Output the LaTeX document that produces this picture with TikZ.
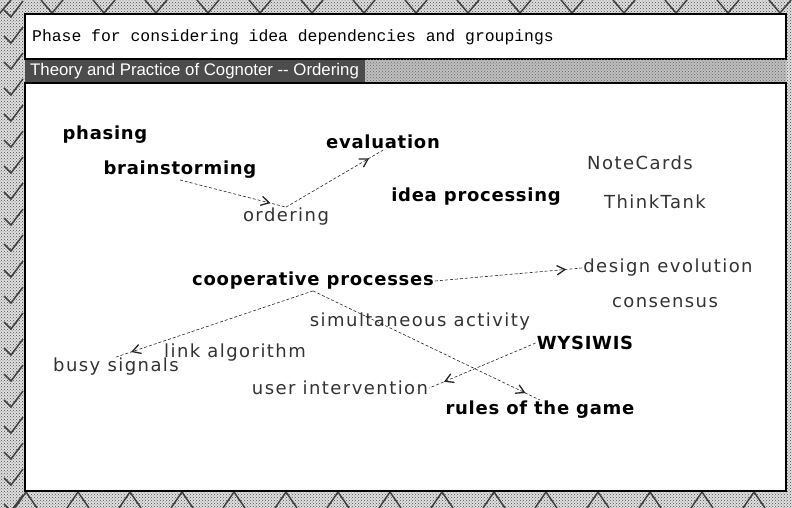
\documentclass[tikz,border=0pt]{standalone}
\usepackage{fontspec}
\setmainfont{DejaVu Sans}
\newfontfamily\boldlab[LetterSpace=4]{DejaVu Sans}
\newfontfamily\plainlab[LetterSpace=8]{DejaVu Sans}
\newfontfamily\promptfont{Liberation Mono}
\newfontfamily\titlefont{Liberation Sans}
\usetikzlibrary{arrows,decorations.markings,patterns}

\begin{document}
\begin{tikzpicture}[x=1pt,y=-1pt,
  big/.style={font=\boldlab\bfseries\fontsize{18}{20}\selectfont, inner sep=1pt},
  small/.style={font=\plainlab\fontsize{18}{20}\selectfont, text=black!80, inner sep=1pt},
  link/.style={densely dashed, line width=0.6pt, black!85, postaction={decorate},
    decoration={markings, mark=at position -16pt with {\arrow[solid,scale=2.2]{angle 60}}}},
  zig/.style={black!75, line width=1.5pt}]
\useasboundingbox (0,0) rectangle (792,508);
\fill[gray!25] (0,0) rectangle (792,508);
\fill[pattern=crosshatch dots, pattern color=black!70] (0,0) rectangle (792,508);
\foreach \i in {0,...,15} {
  \draw[zig] (\i*52-11,0) -- (\i*52,13) -- (\i*52+11,0);
  \draw[zig] (\i*52+15,508) -- (\i*52+26,492) -- (\i*52+37,508);
}
\foreach \j in {0,...,19}
  \draw[zig] (4,\j*26+10) -- (11,\j*26+17) -- (23,\j*26+1); % left edge
% window
\fill[white, draw=black, line width=2pt] (25,14) rectangle (786,59);
\fill[black!70] (25,60) rectangle (365,83);
\fill[gray!50] (365,60) rectangle (786,83);
\fill[pattern=crosshatch dots, pattern color=black!60] (365,60) rectangle (786,83);
\fill[white, draw=black, line width=2pt] (25,83) rectangle (786,491);
\node[anchor=west, font=\promptfont\fontsize{16.4}{18}\selectfont, inner sep=0pt] (prompt) at (32,37)
  {Phase for considering idea dependencies and groupings};
\node[anchor=west, font=\titlefont\fontsize{16.8}{18}\selectfont, text=white, inner sep=0pt] (title) at (30,71)
  {Theory and Practice of Cognoter -- Ordering};
% ideas
\node[big] (phase) at (105,135) {phasing};
\node[big] (brain) at (180,170) {brainstorming};
\node[big] (eval) at (383,142) {evaluation};
\node[small] (order) at (286,217) {ordering};
\node[big] (idea) at (476,197) {idea processing};
\node[small] (notec) at (640,163) {NoteCards};
\node[small] (think) at (655,202) {ThinkTank};
\node[big] (coop) at (313,281) {cooperative processes};
\node[small] (design) at (668,268) {design evolution};
\node[small] (consen) at (665,303) {consensus};
\node[small] (simul) at (420,322) {simultaneous activity};
\node[big] (wysi) at (585,343) {WYSIWIS};
\node[small] (linkal) at (235,353) {link algorithm};
\node[small] (busy) at (116,367) {busy signals};
\node[small] (user) at (340,388) {user intervention};
\node[big] (rules) at (540,410) {rules of the game};
% dependencies
\draw[link] (brain.south) -- (order.north);
\draw[link] (order.north) -- (eval.south);
\draw[link] (coop.east) -- (design.west);
\draw[link] (coop.south) -- (busy.north);
\draw[link] (coop.south) -- (rules.north);
\draw[link] (wysi.west) -- (user.east);
\end{tikzpicture}
\end{document}
